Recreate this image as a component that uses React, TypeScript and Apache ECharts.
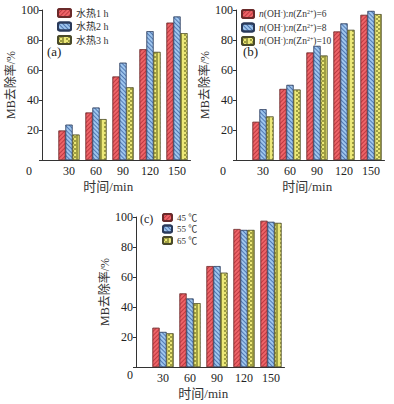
import React, { useEffect, useRef } from 'react';
import * as echarts from 'echarts';

const times = [30, 60, 90, 120, 150];

const namesA = ['水热1 h', '水热2 h', '水热3 h'];
const a1 = [19.6, 31.6, 55.6, 73.8, 91.5];
const a2 = [23.5, 34.9, 64.8, 85.8, 95.6];
const a3 = [16.9, 27.2, 48.4, 72.0, 84.5];

const ratiosB = ['6', '8', '10'];
const namesB = ratiosB.map((r) => `n(OH-):n(Zn2+)=${r}`);
const b1 = [25.4, 47.3, 71.6, 85.6, 96.7];
const b2 = [33.8, 50.0, 76.0, 91.0, 99.3];
const b3 = [29.0, 46.9, 69.6, 86.7, 97.2];

const namesC = ['45 ℃', '55 ℃', '65 ℃'];
const c1 = [26.1, 49.0, 67.2, 91.9, 97.4];
const c2 = [23.3, 45.6, 67.2, 91.3, 96.7];
const c3 = [22.4, 42.5, 62.8, 91.3, 96.0];

const yTicks = [0, 20, 40, 60, 80, 100];
const panelLetters = ['(a)', '(b)', '(c)'];

const FONT = "'Liberation Serif', 'Noto Sans CJK SC', serif";

const styles = [
  {
    color: '#ee6468',
    borderColor: '#6a2a2a',
    decal: {
      color: 'rgba(160,30,40,0.6)',
      symbol: 'rect',
      symbolSize: 1,
      dashArrayX: [1, 0],
      dashArrayY: [1, 2],
      rotation: -Math.PI / 4,
    },
  },
  {
    color: '#9fc6ee',
    borderColor: '#2a3a5a',
    decal: {
      color: 'rgba(30,70,140,0.6)',
      symbol: 'rect',
      symbolSize: 1,
      dashArrayX: [1, 0],
      dashArrayY: [1, 2],
      rotation: Math.PI / 4,
    },
  },
  {
    color: '#ece878',
    borderColor: '#4a4a2a',
    decal: {
      color: 'rgba(110,110,30,0.6)',
      symbol: 'rect',
      symbolSize: 1,
      dashArrayX: [[1.5, 1.5], [0, 1.5, 1.5]],
      dashArrayY: [1.5, 0],
      rotation: 0,
    },
  },
];

const grids = [
  { left: 42, top: 10, width: 148.5, height: 150 },
  { left: 236, top: 10, width: 148.5, height: 150 },
  { left: 136, top: 217, width: 148.5, height: 150 },
];

export default function App() {
  const ref = useRef<HTMLDivElement>(null);
  useEffect(() => {
    if (!ref.current) return;
    const chart = echarts.init(ref.current, null, { renderer: 'svg' });

    const xNamePad = [[0, 16, 0, 0], [0, 6, 0, 0], [0, 14, 0, 0]];
    const yNameGap = [20, 20, 15];

    const xAxis = grids.map((_, i) => ({
      type: 'value',
      gridIndex: i,
      min: 0,
      max: 165,
      interval: 30,
      name: '时间/min',
      nameLocation: 'middle',
      nameGap: 20,
      nameTextStyle: { fontFamily: FONT, fontSize: 13, color: '#333', padding: xNamePad[i] },
      axisLine: { show: true, lineStyle: { color: '#333', width: 1 } },
      axisTick: { show: false },
      splitLine: { show: false },
      axisLabel: {
        fontFamily: FONT,
        fontSize: 12,
        color: '#222',
        margin: 5,
        formatter: (v: number) => (times.includes(v) ? String(v) : ''),
      },
    }));

    const yAxis = grids.map((_, i) => ({
      type: 'value',
      gridIndex: i,
      min: yTicks[0],
      max: yTicks[yTicks.length - 1],
      interval: 20,
      name: 'MB去除率/%',
      nameLocation: 'middle',
      nameGap: yNameGap[i],
      nameTextStyle: { fontFamily: FONT, fontSize: 12, color: '#333' },
      axisLine: { show: true, lineStyle: { color: '#333', width: 1 } },
      axisTick: { show: true, inside: false, length: 3, lineStyle: { color: '#333' } },
      splitLine: { show: false },
      axisLabel: {
        fontFamily: FONT,
        fontSize: 12,
        color: '#222',
        margin: 3,
        formatter: (v: number) => (v === 0 ? '' : String(v)),
      },
    }));

    const mk = (names: string[], vals: number[][], gi: number) =>
      names.map((n, k) => ({
        type: 'bar',
        name: n,
        xAxisIndex: gi,
        yAxisIndex: gi,
        barWidth: 7,
        barGap: '0%',
        data: times.map((t, j) => [t, vals[k][j]]),
        itemStyle: {
          color: styles[k].color,
          borderColor: styles[k].borderColor,
          borderWidth: 0.5,
          decal: styles[k].decal,
        },
      }));

    const series = [
      ...mk(namesA, [a1, a2, a3], 0),
      ...mk(namesB, [b1, b2, b3], 1),
      ...mk(namesC, [c1, c2, c3], 2),
    ];

    const legendText = { fontFamily: FONT, fontSize: 10, color: '#333' };

    chart.setOption({
      animation: false,
      backgroundColor: '#fff',
      aria: { enabled: true, decal: { show: true } },
      grid: grids.map((g) => ({ ...g, containLabel: false })),
      xAxis,
      yAxis,
      legend: [
        {
          data: namesA,
          orient: 'vertical',
          left: 57,
          top: 8,
          itemWidth: 13,
          itemHeight: 8,
          itemGap: 3.5,
          padding: 0,
          textStyle: legendText,
        },
        {
          data: namesB,
          orient: 'vertical',
          left: 241,
          top: 9,
          itemWidth: 12,
          itemHeight: 8,
          itemGap: 3.5,
          padding: 0,
          formatter: (name: string) =>
            `{i|n}(OH{s|-}):{i|n}(Zn{s|2+})=${name.split('=')[1]}`,
          textStyle: {
            ...legendText,
            fontSize: 9.5,
            rich: {
              i: { fontFamily: FONT, fontSize: 9.5, fontStyle: 'italic', color: '#333' },
              s: { fontFamily: FONT, fontSize: 6, color: '#333', verticalAlign: 'top' },
            },
          },
        },
        {
          data: namesC,
          orient: 'vertical',
          left: 162,
          top: 213,
          itemWidth: 9,
          itemHeight: 7,
          itemGap: 2.5,
          padding: 0,
          textStyle: { ...legendText, fontSize: 9 },
        },
      ],
      graphic: [
        { type: 'text', left: 26, top: 165, style: { text: '0', font: `12px ${FONT}`, fill: '#222' } },
        { type: 'text', left: 220, top: 165, style: { text: '0', font: `12px ${FONT}`, fill: '#222' } },
        { type: 'text', left: 127, top: 369, style: { text: '0', font: `12px ${FONT}`, fill: '#222' } },
        { type: 'text', left: 47, top: 45, style: { text: panelLetters[0], font: `13px ${FONT}`, fill: '#222' } },
        { type: 'text', left: 243, top: 45, style: { text: panelLetters[1], font: `13px ${FONT}`, fill: '#222' } },
        { type: 'text', left: 140, top: 213, style: { text: panelLetters[2], font: `12px ${FONT}`, fill: '#222' } },
      ],
      series,
    } as any);
    return () => chart.dispose();
  }, []);
  return (
    <div
      ref={ref}
      style={{ position: 'absolute', left: 0, top: 0, width: 394, height: 404, background: '#fff' }}
    />
  );
}
